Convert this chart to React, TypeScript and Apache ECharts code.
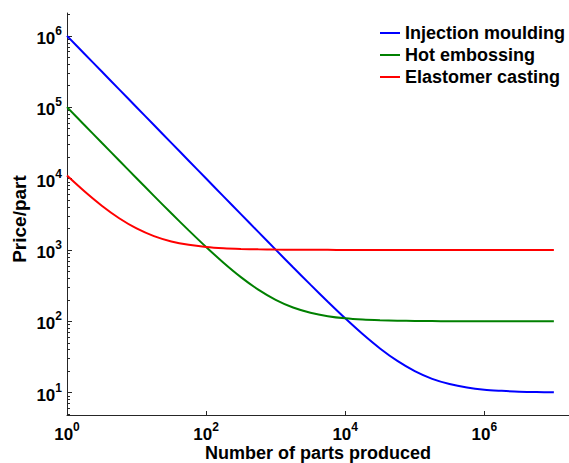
import React, { useEffect, useRef } from "react";
import * as echarts from "echarts";

const PARTS = [1, 1.778, 3.162, 5.623, 10, 17.78, 31.62, 56.23, 100, 177.8, 316.2, 562.3, 1000, 1778, 3162, 5623, 10000, 17783, 31623, 56234, 100000, 177828, 316228, 562341, 1000000, 1778279, 3162278, 5623413, 10000000];
const INJECTION = [1000000, 562000, 316000, 178000, 100000, 56200, 31600, 17800, 10000, 5630, 3170, 1790, 1010, 572, 326, 188, 110, 66.2, 41.6, 27.8, 20, 15.6, 13.2, 11.8, 11, 10.6, 10.3, 10.2, 10.1];
const HOT_EMBOSSING = [100100, 56300, 31700, 17900, 10100, 5720, 3260, 1880, 1100, 662, 416, 278, 200, 156, 132, 118, 110, 105.6, 103.2, 101.8, 101, 100.6, 100.3, 100.2, 100.1, 100.1, 100, 100, 100];
const ELASTOMER = [11000, 6620, 4160, 2780, 2000, 1562, 1316, 1178, 1100, 1056, 1032, 1018, 1010, 1006, 1003, 1002, 1001, 1001, 1000, 1000, 1000, 1000, 1000, 1000, 1000, 1000, 1000, 1000, 1000];

const SERIES_NAMES = ["Injection moulding", "Hot embossing", "Elastomer casting"];
const X_TICKS = [1, 100, 10000, 1000000];
const Y_TICKS = [10, 100, 1000, 10000, 100000, 1000000];
const Y_MINOR = [5, 6, 7, 8, 9, 20, 30, 40, 50, 60, 70, 80, 90, 200, 300, 400, 500, 600, 700, 800, 900, 2000, 3000, 4000, 5000, 6000, 7000, 8000, 9000, 20000, 30000, 40000, 50000, 60000, 70000, 80000, 90000, 200000, 300000, 400000, 500000, 600000, 700000, 800000, 900000, 2000000];

const FONT = "'Liberation Sans', Arial, sans-serif";
const AXIS_COLOR = "#262626";

const powLabel = (v: number) => `{b|10}{s|${Math.round(Math.log10(v))}}`;
const richStyle = {
  b: { fontSize: 17, fontWeight: "bold", fontFamily: FONT, color: "#000", lineHeight: 22, verticalAlign: "bottom" },
  s: { fontSize: 12, fontWeight: "bold", fontFamily: FONT, color: "#000", lineHeight: 22, verticalAlign: "top" },
};

export default function App() {
  const ref = useRef<HTMLDivElement>(null);
  useEffect(() => {
    const chart = echarts.init(ref.current!, null, { renderer: "svg" });
    const mk = (name: string, vals: number[], color: string) => ({
      name,
      type: "line",
      data: PARTS.map((x, i) => [x, vals[i]]),
      symbol: "none",
      smooth: 0.3,
      lineStyle: { color, width: 2 },
      itemStyle: { color },
      xAxisIndex: 0,
      yAxisIndex: 0,
    });
    chart.setOption({
      animation: false,
      backgroundColor: "#fff",
      grid: { left: 67, top: 13, right: 0, bottom: 48, outerBoundsMode: "none", containLabel: false },
      legend: {
        orient: "vertical",
        left: 375,
        top: 17,
        icon: "rect",
        itemWidth: 20,
        itemHeight: 2,
        itemGap: 0,
        data: SERIES_NAMES,
        textStyle: { fontSize: 18, lineHeight: 22, fontWeight: "bold", fontFamily: FONT, color: "#000" },
      },
      xAxis: {
        type: "log",
        logBase: 10,
        min: 1,
        max: 16500000,
        name: "Number of parts produced",
        nameLocation: "middle",
        nameGap: 29,
        nameMoveOverlap: false,
        nameTextStyle: { fontSize: 18, fontWeight: "bold", fontFamily: FONT, color: "#000" },
        axisLine: { lineStyle: { color: AXIS_COLOR, width: 1 } },
        axisTick: { show: true, inside: true, length: 4, customValues: X_TICKS, lineStyle: { color: AXIS_COLOR } },
        axisLabel: { customValues: X_TICKS, formatter: powLabel, rich: richStyle, margin: 6 },
        splitLine: { show: false },
        minorTick: { show: false },
      },
      yAxis: [
        {
          type: "log",
          logBase: 10,
          min: 4.86,
          max: 2090000,
          name: "Price/part",
          nameLocation: "middle",
          nameGap: 38,
          nameMoveOverlap: false,
          nameTextStyle: { fontSize: 19, fontWeight: "bold", fontFamily: FONT, color: "#000", padding: [0, 10, 0, 0] },
          axisLine: { show: true, lineStyle: { color: AXIS_COLOR, width: 1 } },
          axisTick: { show: true, inside: true, length: 5, customValues: Y_TICKS, lineStyle: { color: AXIS_COLOR } },
          axisLabel: { customValues: Y_TICKS, formatter: powLabel, rich: richStyle, margin: 5 },
          splitLine: { show: false },
        },
        {
          type: "log",
          logBase: 10,
          min: 4.86,
          max: 2090000,
          position: "left",
          axisLine: { show: false },
          axisTick: { show: true, inside: true, length: 3, customValues: Y_MINOR, lineStyle: { color: AXIS_COLOR } },
          axisLabel: { show: false },
          splitLine: { show: false },
        },
      ],
      series: [
        mk(SERIES_NAMES[0], INJECTION, "#0000ff"),
        mk(SERIES_NAMES[1], HOT_EMBOSSING, "#008000"),
        mk(SERIES_NAMES[2], ELASTOMER, "#ff0000"),
      ],
    });
    return () => chart.dispose();
  }, []);
  return <div ref={ref} style={{ position: "absolute", left: 0, top: 0, width: 569, height: 463 }} />;
}
